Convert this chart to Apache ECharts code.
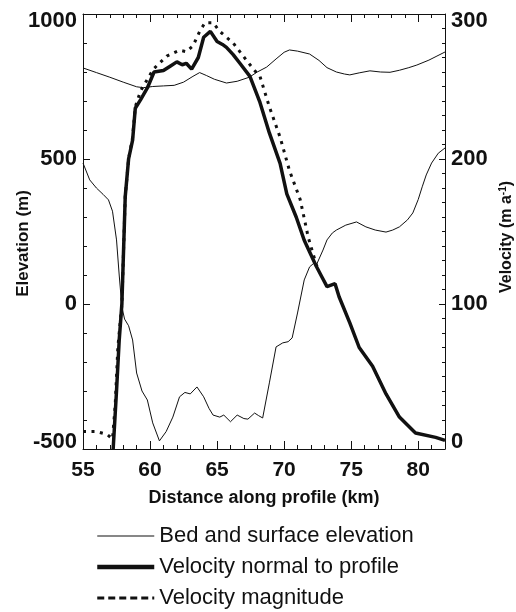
<!DOCTYPE html>
<html>
<head>
<meta charset="utf-8">
<script src="https://cdn.jsdelivr.net/npm/echarts@6/dist/echarts.min.js"></script>
<style>
html,body{margin:0;padding:0;background:#fff;}
#chart{width:516px;height:612px;}
</style>
</head>
<body>
<div id="chart"></div>
<script>
// ---- data ----
const surfaceKm   = [55.0,56.0,57.0,58.0,59.0,59.5,60.2,61.0,61.8,62.5,63.2,63.7,64.2,64.8,65.7,66.5,67.4,68.0,68.7,69.4,70.0,70.4,71.0,71.9,72.6,73.2,73.9,74.5,74.9,75.6,76.4,77.2,77.9,78.6,79.3,79.9,80.8,81.4,82.0];
const surfaceElev = [814,798,782,765,749,746,750,752,754,765,785,798,788,775,762,768,782,800,817,845,868,876,872,862,840,815,800,793,790,797,804,800,799,806,815,824,841,855,869];

const bedKm   = [55.0,55.5,56.0,56.5,56.9,57.2,57.5,57.7,57.9,58.1,58.4,58.7,59.0,59.4,59.8,60.2,60.7,61.2,61.7,62.2,62.6,63.0,63.5,64.0,64.4,64.7,65.2,65.5,66.0,66.5,67.0,67.3,67.8,68.1,68.4,68.9,69.4,69.9,70.3,70.6,71.0,71.5,71.9,72.2,72.4,72.9,73.2,73.6,73.9,74.6,75.4,76.1,76.8,77.6,78.1,78.6,79.2,79.6,80.0,80.3,80.6,81.0,81.5,82.0];
const bedElev = [486,428,400,378,359,320,221,100,-10,-52,-75,-124,-238,-300,-331,-410,-472,-440,-390,-320,-305,-310,-286,-320,-360,-383,-390,-383,-406,-383,-395,-397,-376,-385,-393,-272,-148,-134,-130,-117,-31,83,128,140,134,186,221,245,255,272,283,266,255,248,255,266,290,314,360,404,445,486,520,538];

const velNormalKm = [57.25,57.5,57.7,57.9,58.15,58.4,58.7,58.9,59.3,59.8,60.3,61.0,61.5,62.0,62.4,62.7,63.1,63.6,64.0,64.5,65.0,65.4,65.7,66.2,66.7,67.45,68.2,68.9,69.7,70.2,70.9,71.5,72.0,72.4,72.8,73.2,73.8,74.1,74.9,75.6,76.6,77.6,78.6,79.8,81.3,82.0];
const velNormal   = [0,40,75,100,174,200,213,235,241,249,260,261,264,267,265,266,262,270,284,288,281,279,277,272,266,257,239,218,197,176,160,144,134,126,119,112,114,105,87,70,57,38,22,11,8,6];

const velMagKm = [55.0,56.0,56.8,57.2,57.4,57.6,57.9,58.15,58.4,58.7,58.9,59.3,59.8,60.25,61.25,62.2,62.7,63.2,63.7,64.1,64.7,65.2,66.2,67.2,67.8,68.2,68.9,69.7,70.4,71.2,71.8,72.4,72.6];
const velMag   = [12,12,10,7,30,70,100,174,200,215,236,247,255,262,271,275,274,278,288,294,294,288,280,268,261,257,236,215,192,172,146,127,124];

const kmTickLabels   = [55,60,65,70,75,80];
const elevTickLabels = [-500,0,500,1000];
const velTickLabels  = [0,100,200,300];

// ---- helpers ----
const zip = (xs, ys) => xs.map((x, i) => [x, ys[i]]);
const FONT = "'Liberation Sans', Arial, Helvetica, sans-serif";
const INK = '#111';

function majorX(pos, showLabel) {
  return {
    type: 'value', position: pos, min: 55, max: 82, interval: 5,
    axisLine: {show: true, onZero: false, lineStyle: {color: INK, width: 1}},
    axisTick: {show: true, inside: true, length: 8, lineStyle: {color: INK}},
    splitLine: {show: false},
    axisLabel: {
      show: showLabel, margin: 11, showMaxLabel: false, showMinLabel: true,
      fontFamily: FONT, fontWeight: 'bold', fontSize: 21, color: INK,
      formatter: v => kmTickLabels.indexOf(v) >= 0 ? String(v) : ''
    },
    name: showLabel ? 'Distance along profile (km)' : '',
    nameLocation: 'middle', nameGap: 40, nameMoveOverlap: false,
    nameTextStyle: {fontFamily: FONT, fontWeight: 'bold', fontSize: 18, color: INK}
  };
}
function minorX(pos) {
  return {
    type: 'value', position: pos, min: 55, max: 82, interval: 1,
    axisLine: {show: false, onZero: false},
    axisTick: {show: true, inside: true, length: 4, lineStyle: {color: INK}},
    splitLine: {show: false}, axisLabel: {show: false}
  };
}

const option = {
  animation: false,
  backgroundColor: '#fff',
  grid: {left: 83, right: 71, top: 14, bottom: 163, containLabel: false, outerBoundsMode: 'none'},
  xAxis: [majorX('bottom', true), minorX('bottom'), majorX('top', false), minorX('top')],
  yAxis: [
    { // elevation (left, major)
      type: 'value', position: 'left', min: -500, max: 1000, interval: 500,
      axisLine: {show: true, onZero: false, lineStyle: {color: INK, width: 1}},
      axisTick: {show: true, inside: true, length: 7, lineStyle: {color: INK}},
      splitLine: {show: false},
      axisLabel: {
        margin: 6, fontFamily: FONT, fontWeight: 'bold', fontSize: 22, color: INK, lineHeight: 14,
        formatter: v => v === 1000 ? '\n1000' : (v === -500 ? '-500\n' : String(v))
      },
      name: 'Elevation (m)', nameLocation: 'middle', nameRotate: 90, nameGap: 51, nameMoveOverlap: false,
      nameTextStyle: {fontFamily: FONT, fontWeight: 'bold', fontSize: 17, color: INK, padding: [0, 24, 0, 0]}
    },
    { // velocity (right, major)
      type: 'value', position: 'right', min: 0, max: 300, interval: 100,
      axisLine: {show: true, onZero: false, lineStyle: {color: INK, width: 1}},
      axisTick: {show: true, inside: true, length: 6, lineStyle: {color: INK}},
      splitLine: {show: false},
      axisLabel: {
        margin: 6, fontFamily: FONT, fontWeight: 'bold', fontSize: 22, color: INK, lineHeight: 14,
        formatter: v => v === 300 ? '\n300' : (v === 0 ? '0\n' : String(v))
      },
      name: '{a|Velocity (m a}{s|-1}{a|)}', nameLocation: 'middle', nameRotate: 90, nameGap: 53, nameMoveOverlap: false,
      nameTextStyle: {
        color: INK, padding: [0, 11, 0, 0],
        rich: {
          a: {fontFamily: FONT, fontWeight: 'bold', fontSize: 16, color: INK},
          s: {fontFamily: FONT, fontWeight: 'bold', fontSize: 10, color: INK, verticalAlign: 'top', padding: [0, 0, 8, 0]}
        }
      }
    },
    { // elevation minor ticks
      type: 'value', position: 'left', min: -500, max: 1000, interval: 100,
      axisLine: {show: false, onZero: false},
      axisTick: {show: true, inside: true, length: 4, lineStyle: {color: INK}},
      splitLine: {show: false}, axisLabel: {show: false}
    },
    { // velocity minor ticks
      type: 'value', position: 'right', min: 0, max: 300, interval: 10,
      axisLine: {show: false, onZero: false},
      axisTick: {show: true, inside: true, length: 3, lineStyle: {color: INK}},
      splitLine: {show: false}, axisLabel: {show: false}
    }
  ],
  legend: {
    orient: 'vertical', left: 95, top: 525, padding: 0,
    itemWidth: 57, itemHeight: 14, itemGap: 9,
    selectedMode: false,
    itemStyle: {color: 'rgba(0,0,0,0)', borderWidth: 0, opacity: 0},
    textStyle: {fontFamily: FONT, fontSize: 22, color: INK},
    data: [
      {name: 'Bed and surface elevation', lineStyle: {width: 1.2}},
      {name: 'Velocity normal to profile', lineStyle: {width: 4.5}},
      {name: 'Velocity magnitude', lineStyle: {type: [7, 4], width: 3}}
    ]
  },
  series: [
    {
      name: 'Bed and surface elevation', type: 'line', xAxisIndex: 0, yAxisIndex: 0,
      data: zip(surfaceKm, surfaceElev), symbol: 'none', showSymbol: false,
      lineStyle: {color: INK, width: 1}, itemStyle: {color: INK}, z: 2
    },
    {
      name: 'Bed and surface elevation', type: 'line', xAxisIndex: 0, yAxisIndex: 0,
      data: zip(bedKm, bedElev), symbol: 'none', showSymbol: false,
      lineStyle: {color: INK, width: 1}, itemStyle: {color: INK}, z: 2
    },
    {
      name: 'Velocity magnitude', type: 'line', xAxisIndex: 0, yAxisIndex: 1,
      data: zip(velMagKm, velMag), symbol: 'none', showSymbol: false,
      lineStyle: {color: INK, width: 3, type: [3, 5.5]}, itemStyle: {color: INK}, z: 3
    },
    {
      name: 'Velocity normal to profile', type: 'line', xAxisIndex: 0, yAxisIndex: 1,
      data: zip(velNormalKm, velNormal), symbol: 'none', showSymbol: false,
      lineStyle: {color: INK, width: 3.5}, itemStyle: {color: INK}, z: 4
    }
  ]
};

const chart = echarts.init(document.getElementById('chart'), null, {renderer: 'canvas'});
chart.setOption(option);
</script>
</body>
</html>
